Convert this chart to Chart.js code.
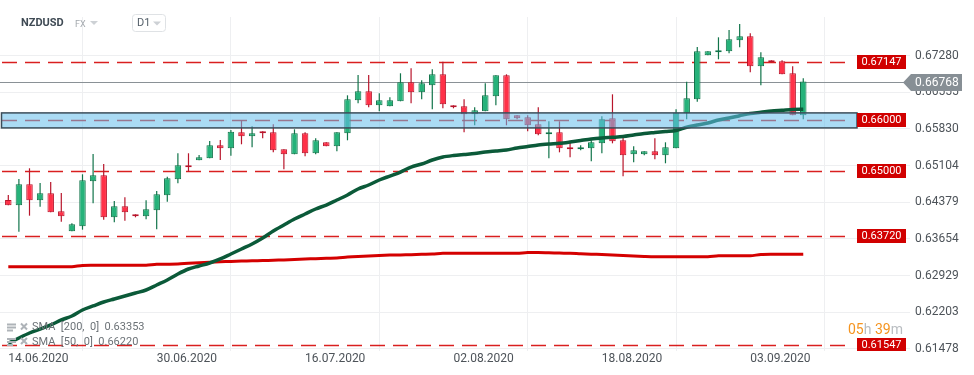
<!DOCTYPE html>
<html><head><meta charset="utf-8">
<script src="https://cdn.jsdelivr.net/npm/chart.js@4/dist/chart.umd.min.js"></script>
<style>html,body{margin:0;padding:0;background:#fff;}#wrap{width:974px;height:375px;}</style>
</head><body><div id="wrap"><canvas id="c" width="974" height="375"></canvas></div>
<script>
const dates = ['14.06.2020','15.06.2020','16.06.2020','17.06.2020','18.06.2020','19.06.2020',
'21.06.2020','22.06.2020','23.06.2020','24.06.2020','25.06.2020','26.06.2020',
'28.06.2020','29.06.2020','30.06.2020','01.07.2020','02.07.2020','03.07.2020',
'05.07.2020','06.07.2020','07.07.2020','08.07.2020','09.07.2020','10.07.2020',
'12.07.2020','13.07.2020','14.07.2020','15.07.2020','16.07.2020','17.07.2020',
'19.07.2020','20.07.2020','21.07.2020','22.07.2020','23.07.2020','24.07.2020',
'26.07.2020','27.07.2020','28.07.2020','29.07.2020','30.07.2020','31.07.2020',
'02.08.2020','03.08.2020','04.08.2020','05.08.2020','06.08.2020','07.08.2020',
'09.08.2020','10.08.2020','11.08.2020','12.08.2020','13.08.2020','14.08.2020',
'16.08.2020','17.08.2020','18.08.2020','19.08.2020','20.08.2020','21.08.2020',
'23.08.2020','24.08.2020','25.08.2020','26.08.2020','27.08.2020','28.08.2020',
'30.08.2020','31.08.2020','01.09.2020','02.09.2020','03.09.2020','04.09.2020',
'06.09.2020','07.09.2020','08.09.2020','09.09.2020'];

const openP = [0.64424,0.64319,0.64735,0.64418,0.64557,0.64201,0.63805,0.63904,0.64794,0.64913,
 0.64082,0.64300,0.64141,0.64102,0.64220,0.64517,0.64834,0.65111,0.65210,0.65250,
 0.65507,0.65447,0.65764,0.65685,0.65784,0.65764,0.65428,0.65329,0.65744,0.65349,
 0.65566,0.65487,0.65744,0.66397,0.66575,0.66298,0.66279,0.66378,0.66754,0.66556,
 0.66694,0.66912,0.66298,0.66279,0.66120,0.66180,0.66477,0.66892,0.66101,0.66061,
 0.65922,0.65725,0.65764,0.65467,0.65428,0.65447,0.65546,0.66041,0.65606,0.65329,
 0.65329,0.65388,0.65309,0.65447,0.66140,0.66417,0.67288,0.67347,0.67367,0.67585,
 0.67664,0.67070,0.67189,0.67169,0.66932,0.66101];
const highP = [0.64523,0.64840,0.65052,0.64761,0.64781,0.64563,0.63963,0.64933,0.65335,0.65137,
 0.64405,0.64478,0.64141,0.64418,0.64602,0.64885,0.65349,0.65349,0.65315,0.65592,
 0.65612,0.65810,0.66002,0.65883,0.65784,0.65922,0.65428,0.65823,0.65764,0.65645,
 0.65566,0.65764,0.66496,0.66898,0.66898,0.66536,0.66457,0.66932,0.67031,0.66793,
 0.67011,0.67161,0.66298,0.66417,0.66259,0.66734,0.66892,0.66912,0.66101,0.66101,
 0.66259,0.65982,0.65982,0.65586,0.65507,0.65606,0.66081,0.66516,0.65685,0.65487,
 0.65388,0.65645,0.65566,0.66219,0.66765,0.67452,0.67367,0.67644,0.67789,0.67907,
 0.67723,0.67347,0.67189,0.67189,0.67070,0.66833];
const lowP = [0.64319,0.63797,0.64114,0.64292,0.64181,0.63995,0.63805,0.63837,0.64359,0.64034,
 0.63983,0.64015,0.64082,0.64042,0.63844,0.64391,0.64755,0.64984,0.65210,0.65250,
 0.65216,0.65301,0.65527,0.65467,0.65645,0.65368,0.65032,0.65329,0.65289,0.65329,
 0.65487,0.65388,0.65606,0.66338,0.66259,0.66180,0.66279,0.66378,0.66338,0.66417,
 0.66219,0.66239,0.66239,0.65764,0.65903,0.66180,0.66298,0.65903,0.66021,0.65784,
 0.65705,0.65250,0.65368,0.65269,0.65408,0.65190,0.65349,0.65546,0.64893,0.65170,
 0.65309,0.65230,0.65151,0.65447,0.66021,0.66370,0.67288,0.67209,0.67328,0.67446,
 0.66952,0.66694,0.67149,0.66912,0.66101,0.66021];
const closeP = [0.64319,0.64735,0.64418,0.64557,0.64181,0.64102,0.63943,0.64814,0.64913,0.64082,
 0.64300,0.64181,0.64102,0.64240,0.64537,0.64854,0.65111,0.65071,0.65269,0.65507,
 0.65447,0.65776,0.65685,0.65744,0.65744,0.65408,0.65329,0.65744,0.65349,0.65606,
 0.65487,0.65764,0.66417,0.66575,0.66298,0.66397,0.66397,0.66754,0.66556,0.66734,
 0.66912,0.66318,0.66259,0.66120,0.66200,0.66496,0.66892,0.66021,0.66041,0.65903,
 0.65725,0.65764,0.65447,0.65428,0.65467,0.65566,0.66021,0.65586,0.65309,0.65408,
 0.65388,0.65309,0.65467,0.66152,0.66437,0.67367,0.67367,0.67387,0.67605,0.67664,
 0.67070,0.67248,0.67149,0.66912,0.66101,0.66768];
const sma50 = [0.61588,0.61693,0.61792,0.61871,0.61951,0.62050,0.62129,0.62247,0.62327,0.62406,
 0.62465,0.62524,0.62584,0.62643,0.62742,0.62841,0.62960,0.63059,0.63118,0.63178,
 0.63257,0.63356,0.63455,0.63554,0.63672,0.63811,0.63930,0.64048,0.64147,0.64246,
 0.64325,0.64424,0.64523,0.64642,0.64721,0.64820,0.64899,0.64978,0.65077,0.65137,
 0.65216,0.65275,0.65305,0.65325,0.65344,0.65374,0.65394,0.65414,0.65453,0.65483,
 0.65513,0.65532,0.65546,0.65572,0.65602,0.65631,0.65651,0.65665,0.65681,0.65711,
 0.65740,0.65760,0.65780,0.65800,0.65863,0.65909,0.65948,0.66007,0.66047,0.66093,
 0.66136,0.66160,0.66186,0.66200,0.66215,0.66220];
const sma200 = [0.63104,0.63104,0.63104,0.63104,0.63104,0.63104,0.63104,0.63128,0.63132,0.63132,
 0.63132,0.63132,0.63132,0.63132,0.63152,0.63154,0.63158,0.63172,0.63183,0.63191,
 0.63201,0.63209,0.63215,0.63221,0.63227,0.63231,0.63239,0.63249,0.63257,0.63263,
 0.63272,0.63278,0.63296,0.63308,0.63316,0.63326,0.63334,0.63338,0.63342,0.63350,
 0.63356,0.63370,0.63370,0.63370,0.63370,0.63370,0.63370,0.63370,0.63370,0.63385,
 0.63385,0.63379,0.63373,0.63370,0.63360,0.63352,0.63346,0.63336,0.63326,0.63316,
 0.63308,0.63302,0.63302,0.63302,0.63302,0.63302,0.63302,0.63320,0.63322,0.63322,
 0.63322,0.63344,0.63350,0.63350,0.63350,0.63353];

const yTickLabels = ['0.67280','0.66555','0.65830','0.65104','0.64379','0.63654','0.62929','0.62203','0.61478'];
const xTickLabels = ['14.06.2020','30.06.2020','16.07.2020','02.08.2020','18.08.2020','03.09.2020'];
const levels = [0.67147, 0.66000, 0.65000, 0.63720, 0.61547];
const levelLabels = ['0.67147','0.66000','0.65000','0.63720','0.61547'];
const zoneRange = [0.65851, 0.66148];
const lastPrice = 0.66768;
const lastPriceLabel = '0.66768';
const smaLegend = ['SMA  [200,  0]  0.63353', 'SMA  [50,  0]  0.66220'];

const UP_FILL = '#26b27a', UP_LINE = '#11744a', DN_FILL = '#ff3148', DN_LINE = '#b8152b';
const isUp = i => closeP[i] >= openP[i];

const bodies = dates.map((d, i) => ({x: i, y: [openP[i], closeP[i]]}));
const wicks = dates.map((d, i) => ({x: i, y: [lowP[i], highP[i]]}));
const sma50pts = sma50.map((v, i) => ({x: i, y: v}));
const sma200pts = sma200.map((v, i) => ({x: i, y: v}));

const overlay = {
  id: 'overlay',
  beforeDatasetsDraw(chart) {
    const {ctx, chartArea: a, scales: {y}} = chart;
    ctx.save();
    const py = Math.round(y.getPixelForValue(lastPrice)) + 0.5;
    ctx.strokeStyle = '#8a9196'; ctx.lineWidth = 1;
    ctx.beginPath(); ctx.moveTo(a.left, py); ctx.lineTo(904, py); ctx.stroke();
    ctx.strokeStyle = 'rgba(212,0,0,0.88)'; ctx.lineWidth = 1.5; ctx.setLineDash([15, 8]);
    levels.forEach(v => {
      const yy = Math.round(y.getPixelForValue(v)) + 0.5;
      ctx.beginPath(); ctx.moveTo(2, yy); ctx.lineTo(853, yy); ctx.stroke();
    });
    ctx.restore();
  },
  afterDatasetsDraw(chart) {
    const {ctx, chartArea: a, scales: {y}} = chart;
    ctx.save();
    // zone
    const zt = y.getPixelForValue(zoneRange[1]), zb = y.getPixelForValue(zoneRange[0]);
    ctx.fillStyle = 'rgba(100,190,235,0.55)';
    ctx.fillRect(1.5, zt, 855.5, zb - zt);
    ctx.strokeStyle = '#3b4d5a'; ctx.lineWidth = 1.5;
    ctx.strokeRect(1.5, zt, 855.5, zb - zt);
    // level labels
    ctx.save();
    ctx.beginPath(); ctx.rect(a.left, a.top, 974, a.bottom - a.top); ctx.clip();
    ctx.font = '11px Roboto'; ctx.textAlign = 'center'; ctx.textBaseline = 'middle';
    levels.forEach((v, k) => {
      const yy = y.getPixelForValue(v);
      ctx.fillStyle = '#d10000';
      ctx.fillRect(857, Math.round(yy) - 7, 49, 14);
      ctx.fillStyle = '#ffffff';
      ctx.fillText(levelLabels[k], 881.5, Math.round(yy) + 0.5);
    });
    ctx.restore();
    // last price label
    const py = Math.round(y.getPixelForValue(lastPrice)) + 0.5;
    ctx.fillStyle = '#878f95';
    ctx.beginPath();
    ctx.moveTo(903, py); ctx.lineTo(911, py - 8.5); ctx.lineTo(962, py - 8.5);
    ctx.lineTo(962, py + 8.5); ctx.lineTo(911, py + 8.5); ctx.closePath(); ctx.fill();
    ctx.fillStyle = '#ffffff'; ctx.font = '12px Roboto'; ctx.textAlign = 'left'; ctx.textBaseline = 'middle';
    ctx.fillText(lastPriceLabel, 915, py + 0.5);
    ctx.restore();
  },
  afterDraw(chart) {
    const ctx = chart.ctx;
    ctx.save();
    // header
    ctx.textBaseline = 'middle'; ctx.textAlign = 'left';
    ctx.font = 'bold 11px Roboto'; ctx.fillStyle = '#3f4a54';
    ctx.fillText('NZDUSD', 21, 23.5);
    ctx.font = '9px Roboto'; ctx.fillStyle = '#a3a8ad';
    ctx.fillText('FX', 75, 24.5);
    ctx.fillStyle = '#cdd1d5';
    ctx.beginPath(); ctx.moveTo(90, 21); ctx.lineTo(98, 21); ctx.lineTo(94, 25); ctx.closePath(); ctx.fill();
    ctx.fillStyle = '#ffffff';
    ctx.beginPath(); ctx.roundRect(132.5, 14.5, 33, 17, 3); ctx.fill();
    ctx.strokeStyle = '#dfe2e5'; ctx.lineWidth = 1; ctx.stroke();
    ctx.font = '11px Roboto'; ctx.fillStyle = '#55606a';
    ctx.fillText('D1', 137, 23.5);
    ctx.fillStyle = '#cdd1d5';
    ctx.beginPath(); ctx.moveTo(153, 21.5); ctx.lineTo(161, 21.5); ctx.lineTo(157, 25.5); ctx.closePath(); ctx.fill();
    // indicator legend
    [327.5, 342].forEach((yy, k) => {
      ctx.fillStyle = '#aeb3b8';
      ctx.fillRect(7, yy - 4, 9, 2); ctx.fillRect(7, yy - 1, 9, 2); ctx.fillRect(7, yy + 2, 6, 2);
      ctx.strokeStyle = '#aeb3b8'; ctx.lineWidth = 2;
      ctx.beginPath(); ctx.moveTo(21, yy - 4); ctx.lineTo(27, yy + 2); ctx.moveTo(27, yy - 4); ctx.lineTo(21, yy + 2); ctx.stroke();
      ctx.font = '11px Roboto'; ctx.fillStyle = '#6c7277';
      ctx.fillText(smaLegend[k], 32, yy);
    });
    // timer
    ctx.font = '14px Roboto';
    let x = 848;
    [['05', '#f5941f'], ['h', '#b9bdc1'], [' 39', '#f5941f'], ['m', '#b9bdc1']].forEach(([t, c]) => {
      ctx.fillStyle = c; ctx.fillText(t, x, 330); x += ctx.measureText(t).width;
    });
    ctx.restore();
  }
};

const tickFont = {family: 'Roboto', size: 12};
new Chart(document.getElementById('c'), {
  type: 'bar',
  data: {
    datasets: [
      {type: 'line', data: sma50pts, borderColor: '#0b5a39', borderWidth: 3.5, pointRadius: 0, tension: 0.3, order: 0},
      {type: 'line', data: sma200pts, borderColor: '#d40000', borderWidth: 3, pointRadius: 0, tension: 0.3, order: 1},
      {data: bodies, grouped: false, maxBarThickness: 6.5, minBarLength: 2, borderWidth: 1, borderSkipped: false,
       backgroundColor: c => isUp(c.dataIndex) ? UP_FILL : DN_FILL,
       borderColor: c => isUp(c.dataIndex) ? UP_LINE : DN_LINE, order: 2},
      {data: wicks, grouped: false, maxBarThickness: 1.2, borderWidth: 0,
       backgroundColor: c => isUp(c.dataIndex) ? UP_LINE : DN_LINE, order: 3}
    ]
  },
  options: {
    responsive: false, animation: false,
    layout: {padding: {top: 17, left: 0, right: 0, bottom: 0}},
    plugins: {legend: {display: false}, tooltip: {enabled: false}},
    scales: {
      x: {
        type: 'linear', min: -0.783, max: 85.07, offset: false,
        afterBuildTicks: s => { s.ticks = xTickLabels.map(l => ({value: dates.indexOf(l)})); },
        afterFit: s => { s.height = 24; },
        ticks: {callback: v => dates[v], align: 'start', padding: 1, color: '#4d5359', font: tickFont, maxRotation: 0, autoSkip: false},
        grid: {color: '#eeeff1', drawTicks: false}, border: {display: false}
      },
      y: {
        position: 'right', min: 0.61436, max: 0.68046,
        afterBuildTicks: s => { s.ticks = yTickLabels.map(t => ({value: parseFloat(t)})); },
        afterFit: s => { s.width = 64; },
        ticks: {callback: (v, i) => yTickLabels[i], padding: 5, color: '#4d5359', font: tickFont},
        grid: {color: '#eeeff1', drawTicks: false}, border: {display: false}
      }
    }
  },
  plugins: [overlay]
});
</script>
</body></html>
